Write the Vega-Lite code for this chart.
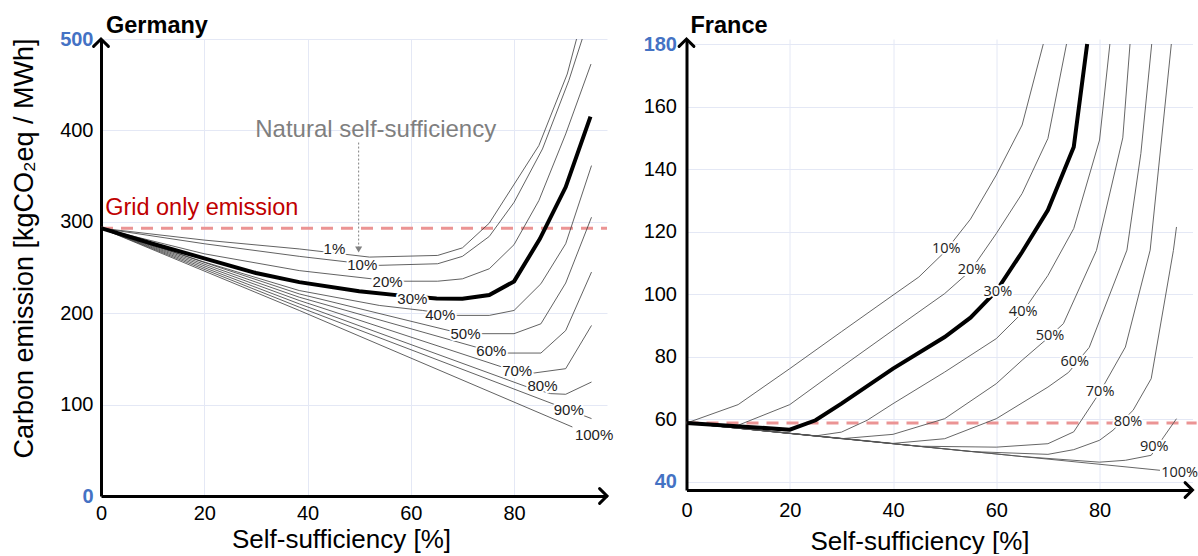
{
  "$schema": "https://vega.github.io/schema/vega-lite/v6.json",
  "padding": {"left": 9, "top": 13, "right": 0, "bottom": 0},
  "spacing": 79.5,
  "bounds": "flush",
  "config": {"view": {"stroke": null}, "font": "Liberation Sans"},
  "datasets": {
    "de": [
      {"g": "1%", "x": 0, "y": 293}, {"g": "1%", "x": 20, "y": 280}, {"g": "1%", "x": 38.4, "y": 270.3}, {"g": "1%", "x": 52, "y": 261.4}, {"g": "1%", "x": 65.2, "y": 263.2}, {"g": "1%", "x": 70, "y": 271.5}, {"g": "1%", "x": 75.2, "y": 298.5}, {"g": "1%", "x": 84.8, "y": 383.4}, {"g": "1%", "x": 90.3, "y": 461.7}, {"g": "1%", "x": 92.1, "y": 500},
      {"g": "10%", "x": 0, "y": 293}, {"g": "10%", "x": 20, "y": 276}, {"g": "10%", "x": 38.4, "y": 262.2}, {"g": "10%", "x": 53.5, "y": 252.3}, {"g": "10%", "x": 65.2, "y": 254.1}, {"g": "10%", "x": 70, "y": 262.2}, {"g": "10%", "x": 75.2, "y": 284}, {"g": "10%", "x": 80, "y": 321.3}, {"g": "10%", "x": 85.5, "y": 379.7}, {"g": "10%", "x": 90.6, "y": 454.4}, {"g": "10%", "x": 93.2, "y": 500},
      {"g": "20%", "x": 0, "y": 293}, {"g": "20%", "x": 20, "y": 265}, {"g": "20%", "x": 38.4, "y": 246.6}, {"g": "20%", "x": 52.3, "y": 237.7}, {"g": "20%", "x": 58.7, "y": 235}, {"g": "20%", "x": 65.2, "y": 235}, {"g": "20%", "x": 70, "y": 237.6}, {"g": "20%", "x": 75.2, "y": 248.6}, {"g": "20%", "x": 80, "y": 275}, {"g": "20%", "x": 84.8, "y": 323.2}, {"g": "20%", "x": 90, "y": 396.1}, {"g": "20%", "x": 94.9, "y": 472.6},
      {"g": "30%", "x": 0, "y": 293}, {"g": "30%", "x": 10, "y": 276}, {"g": "30%", "x": 20, "y": 260}, {"g": "30%", "x": 30, "y": 244}, {"g": "30%", "x": 38.4, "y": 234}, {"g": "30%", "x": 50, "y": 224}, {"g": "30%", "x": 57.7, "y": 219.5}, {"g": "30%", "x": 65, "y": 216}, {"g": "30%", "x": 70, "y": 215.8}, {"g": "30%", "x": 75.2, "y": 219.8}, {"g": "30%", "x": 80, "y": 234.8}, {"g": "30%", "x": 85, "y": 281.3}, {"g": "30%", "x": 90, "y": 338}, {"g": "30%", "x": 94.8, "y": 415.1},
      {"g": "40%", "x": 0, "y": 293}, {"g": "40%", "x": 20, "y": 256}, {"g": "40%", "x": 38.4, "y": 224.8}, {"g": "40%", "x": 53.9, "y": 208.5}, {"g": "40%", "x": 62.3, "y": 203}, {"g": "40%", "x": 68.7, "y": 197.6}, {"g": "40%", "x": 75.2, "y": 197.6}, {"g": "40%", "x": 80, "y": 203}, {"g": "40%", "x": 85.2, "y": 232.2}, {"g": "40%", "x": 90, "y": 276}, {"g": "40%", "x": 95, "y": 361.5},
      {"g": "50%", "x": 0, "y": 293}, {"g": "50%", "x": 38.4, "y": 221.1}, {"g": "50%", "x": 67.4, "y": 181}, {"g": "50%", "x": 72.3, "y": 177.6}, {"g": "50%", "x": 80, "y": 177.6}, {"g": "50%", "x": 85.2, "y": 188.4}, {"g": "50%", "x": 90, "y": 233}, {"g": "50%", "x": 95, "y": 305},
      {"g": "60%", "x": 0, "y": 293}, {"g": "60%", "x": 38.4, "y": 217.5}, {"g": "60%", "x": 72.6, "y": 162.9}, {"g": "60%", "x": 78.6, "y": 156.4}, {"g": "60%", "x": 85.2, "y": 156.4}, {"g": "60%", "x": 90, "y": 181}, {"g": "60%", "x": 95, "y": 245},
      {"g": "70%", "x": 0, "y": 293}, {"g": "70%", "x": 38.4, "y": 213.9}, {"g": "70%", "x": 77.7, "y": 141.1}, {"g": "70%", "x": 83.9, "y": 134.6}, {"g": "70%", "x": 90, "y": 139.3}, {"g": "70%", "x": 95, "y": 186.6},
      {"g": "80%", "x": 0, "y": 293}, {"g": "80%", "x": 38.4, "y": 210.2}, {"g": "80%", "x": 82.6, "y": 119.2}, {"g": "80%", "x": 87.1, "y": 112}, {"g": "80%", "x": 90, "y": 111.3}, {"g": "80%", "x": 95, "y": 124.7},
      {"g": "90%", "x": 0, "y": 293}, {"g": "90%", "x": 38.4, "y": 206.6}, {"g": "90%", "x": 95, "y": 84.7},
      {"g": "100%", "x": 0, "y": 293}, {"g": "100%", "x": 38.4, "y": 203}, {"g": "100%", "x": 91.3, "y": 75.5}
    ],
    "deLab": [
      {"t": "1%", "x": 45.2, "y": 269.7, "b": 0}, {"t": "10%", "x": 50.6, "y": 252.3, "b": 0}, {"t": "20%", "x": 55.5, "y": 234, "b": 0}, {"t": "30%", "x": 60.3, "y": 215.8, "b": 1}, {"t": "40%", "x": 65.7, "y": 197.6, "b": 0}, {"t": "50%", "x": 70.6, "y": 177.6, "b": 0}, {"t": "60%", "x": 75.6, "y": 158.6, "b": 0}, {"t": "70%", "x": 80.6, "y": 136.7, "b": 0}, {"t": "80%", "x": 85.5, "y": 120, "b": 0}, {"t": "90%", "x": 90.6, "y": 93.7, "b": 0}, {"t": "100%", "x": 95.5, "y": 66.4, "b": 0}
    ],
    "fr": [
      {"g": "10%", "x": 0, "y": 58.8}, {"g": "10%", "x": 10, "y": 64.7}, {"g": "10%", "x": 20, "y": 76.2}, {"g": "10%", "x": 30, "y": 88}, {"g": "10%", "x": 40, "y": 99.7}, {"g": "10%", "x": 45, "y": 105.5}, {"g": "10%", "x": 50, "y": 113.5}, {"g": "10%", "x": 55, "y": 124}, {"g": "10%", "x": 60, "y": 138.1}, {"g": "10%", "x": 65, "y": 154.1}, {"g": "10%", "x": 69.1, "y": 180},
      {"g": "20%", "x": 0, "y": 58.8}, {"g": "20%", "x": 10, "y": 58.1}, {"g": "20%", "x": 20, "y": 64.7}, {"g": "20%", "x": 30, "y": 76.7}, {"g": "20%", "x": 40, "y": 88.5}, {"g": "20%", "x": 50, "y": 100.2}, {"g": "20%", "x": 55, "y": 107.5}, {"g": "20%", "x": 60, "y": 119.4}, {"g": "20%", "x": 65, "y": 132.2}, {"g": "20%", "x": 70, "y": 149.8}, {"g": "20%", "x": 73.6, "y": 180},
      {"g": "30%", "x": 0, "y": 58.8}, {"g": "30%", "x": 20, "y": 56.7}, {"g": "30%", "x": 25, "y": 59.7}, {"g": "30%", "x": 30, "y": 65}, {"g": "30%", "x": 40, "y": 76.2}, {"g": "30%", "x": 50, "y": 86.3}, {"g": "30%", "x": 55, "y": 92.5}, {"g": "30%", "x": 60, "y": 101}, {"g": "30%", "x": 65, "y": 113.5}, {"g": "30%", "x": 70, "y": 126.9}, {"g": "30%", "x": 75, "y": 147.1}, {"g": "30%", "x": 77.6, "y": 180},
      {"g": "40%", "x": 0, "y": 58.8}, {"g": "40%", "x": 25, "y": 54.7}, {"g": "40%", "x": 30, "y": 55.9}, {"g": "40%", "x": 35, "y": 59.7}, {"g": "40%", "x": 40, "y": 65}, {"g": "40%", "x": 50, "y": 75.1}, {"g": "40%", "x": 60, "y": 85.8}, {"g": "40%", "x": 65, "y": 94}, {"g": "40%", "x": 70, "y": 106}, {"g": "40%", "x": 75, "y": 121}, {"g": "40%", "x": 80, "y": 149.3}, {"g": "40%", "x": 82, "y": 180},
      {"g": "50%", "x": 0, "y": 58.8}, {"g": "50%", "x": 30, "y": 53.8}, {"g": "50%", "x": 40, "y": 55.2}, {"g": "50%", "x": 50, "y": 60.2}, {"g": "50%", "x": 60, "y": 71.4}, {"g": "50%", "x": 65, "y": 78.9}, {"g": "50%", "x": 70, "y": 86}, {"g": "50%", "x": 73, "y": 90.6}, {"g": "50%", "x": 79.4, "y": 114}, {"g": "50%", "x": 84.5, "y": 150}, {"g": "50%", "x": 85.9, "y": 180},
      {"g": "60%", "x": 0, "y": 58.8}, {"g": "60%", "x": 40, "y": 52.3}, {"g": "60%", "x": 50, "y": 53.8}, {"g": "60%", "x": 60, "y": 60.2}, {"g": "60%", "x": 70, "y": 70.3}, {"g": "60%", "x": 74, "y": 75}, {"g": "60%", "x": 78, "y": 83}, {"g": "60%", "x": 85.3, "y": 114.1}, {"g": "60%", "x": 88, "y": 145}, {"g": "60%", "x": 90.1, "y": 180},
      {"g": "70%", "x": 0, "y": 58.8}, {"g": "70%", "x": 45, "y": 51.4}, {"g": "70%", "x": 60, "y": 51.1}, {"g": "70%", "x": 70, "y": 52.2}, {"g": "70%", "x": 75, "y": 56}, {"g": "70%", "x": 80, "y": 68.5}, {"g": "70%", "x": 85, "y": 83.1}, {"g": "70%", "x": 89.8, "y": 114.1}, {"g": "70%", "x": 93.9, "y": 180},
      {"g": "80%", "x": 0, "y": 58.8}, {"g": "80%", "x": 55, "y": 49.7}, {"g": "80%", "x": 70, "y": 48.8}, {"g": "80%", "x": 75, "y": 50.3}, {"g": "80%", "x": 80, "y": 53.3}, {"g": "80%", "x": 82.6, "y": 56.5}, {"g": "80%", "x": 86.5, "y": 62.9}, {"g": "80%", "x": 90, "y": 73}, {"g": "80%", "x": 94.3, "y": 114}, {"g": "80%", "x": 94.9, "y": 121.5},
      {"g": "90%", "x": 0, "y": 58.8}, {"g": "90%", "x": 65, "y": 48.1}, {"g": "90%", "x": 80, "y": 46.3}, {"g": "90%", "x": 85, "y": 46.9}, {"g": "90%", "x": 90, "y": 48.5}, {"g": "90%", "x": 92.4, "y": 54.3}, {"g": "90%", "x": 94.9, "y": 60.2},
      {"g": "100%", "x": 0, "y": 58.8}, {"g": "100%", "x": 91.7, "y": 43.7}
    ],
    "frLab": [
      {"t": "10%", "x": 50.3, "y": 114.3, "b": 0}, {"t": "20%", "x": 55.3, "y": 107.9, "b": 0}, {"t": "30%", "x": 60.3, "y": 100.7, "b": 1}, {"t": "40%", "x": 65.2, "y": 94.3, "b": 0}, {"t": "50%", "x": 70.4, "y": 86.6, "b": 0}, {"t": "60%", "x": 75.2, "y": 78.3, "b": 0}, {"t": "70%", "x": 80.1, "y": 68.7, "b": 0}, {"t": "80%", "x": 85.5, "y": 59.1, "b": 0}, {"t": "90%", "x": 90.6, "y": 51.1, "b": 0}, {"t": "100%", "x": 95.5, "y": 42.8, "b": 0}
    ]
  },
  "hconcat": [
    {
      "width": 506,
      "height": 457,
      "title": {"text": "Germany", "anchor": "start", "frame": "group", "fontSize": 23.5, "fontWeight": "bold", "color": "black", "font": "Liberation Sans", "offset": -8, "dx": 5},
      "encoding": {
        "x": {"field": "x", "type": "quantitative", "scale": {"domain": [0, 98], "nice": false, "zero": false},
          "axis": {"values": [0, 20, 40, 60, 80], "title": "Self-sufficiency [%]", "titleFontSize": 26, "titleFontWeight": "normal", "titleColor": "black", "titleX": 240, "titleY": 51, "titleBaseline": "alphabetic", "titleAlign": "center", "labelFontSize": 20, "labelColor": "black", "labelPadding": 7, "labelFlush": false, "labelOverlap": false, "ticks": false, "domainColor": "black", "domainWidth": 3, "grid": true, "gridColor": "#E4E8F5", "gridWidth": 1}},
        "y": {"field": "y", "type": "quantitative", "scale": {"domain": [0, 500], "nice": false, "zero": false},
          "axis": {"values": [0, 100, 200, 300, 400, 500], "title": "Carbon emission [kgCO₂eq / MWh]", "titleFontSize": 27, "titleFontWeight": "normal", "titleColor": "black", "titleX": -69, "titleY": 209, "titleBaseline": "alphabetic", "titleAlign": "center", "titleAngle": -90, "labelFontSize": 20, "labelPadding": 8, "labelFlush": false, "labelOverlap": false,
            "labelColor": {"condition": {"test": "datum.value == 0 || datum.value == 500", "value": "#4472C4"}, "value": "black"},
            "labelFontWeight": {"condition": {"test": "datum.value == 0 || datum.value == 500", "value": "bold"}, "value": "normal"},
            "ticks": false, "domainColor": "black", "domainWidth": 3, "grid": true, "gridColor": "#E4E8F5", "gridWidth": 1}}
      },
      "layer": [
        {"data": {"values": [{"x": 0, "x2": 98, "y": 293}]}, "mark": {"type": "rule", "color": "#EB9494", "strokeWidth": 3, "strokeDash": [12, 8]}, "encoding": {"x2": {"field": "x2"}}},
        {"data": {"name": "de"}, "transform": [{"filter": "datum.g != '30%'"}], "mark": {"type": "line", "color": "#3a3a3a", "strokeWidth": 0.8}, "encoding": {"detail": {"field": "g"}}},
        {"data": {"name": "de"}, "transform": [{"filter": "datum.g == '30%'"}], "mark": {"type": "line", "color": "black", "strokeWidth": 4}, "encoding": {}},
        {"data": {"name": "deLab"}, "mark": {"type": "text", "fontSize": 15, "font": "Liberation Sans", "stroke": "white", "strokeWidth": 4, "strokeJoin": "round", "baseline": "middle"}, "encoding": {"text": {"field": "t"}, "fontWeight": {"condition": {"test": "datum.b == 1", "value": "bold"}, "value": "normal"}}},
        {"data": {"name": "deLab"}, "mark": {"type": "text", "fontSize": 15, "font": "Liberation Sans", "color": "#222", "baseline": "middle"}, "encoding": {"text": {"field": "t"}, "fontWeight": {"condition": {"test": "datum.b == 1", "value": "bold"}, "value": "normal"}}},
        {"data": {"values": [{"x": 0.8, "y": 306.9, "t": "Grid only emission"}]}, "mark": {"type": "text", "fontSize": 23.5, "color": "#C00000", "align": "left", "baseline": "alphabetic"}, "encoding": {"text": {"field": "t"}}},
        {"data": {"values": [{"x": 53.2, "y": 392.5, "t": "Natural self-sufficiency"}]}, "mark": {"type": "text", "fontSize": 24, "color": "#7F7F7F", "align": "center", "baseline": "alphabetic"}, "encoding": {"text": {"field": "t"}}},
        {"data": {"values": [{"x": 49.9, "y": 386.7, "y2": 272}]}, "mark": {"type": "rule", "color": "#808080", "strokeWidth": 1, "strokeDash": [2, 2]}, "encoding": {"y2": {"field": "y2"}}},
        {"data": {"values": [{"x": 49.9, "y": 269.7}]}, "mark": {"type": "point", "shape": "triangle-down", "filled": true, "color": "#808080", "size": 50, "opacity": 1}, "encoding": {}},
        {"data": {"values": [{"x": 98, "y": 0}]}, "mark": {"type": "point", "shape": "M-1,-1L0,0L-1,1", "filled": false, "color": "black", "strokeWidth": 3, "size": 220, "opacity": 1, "strokeCap": "round", "strokeJoin": "miter"}, "encoding": {}},
        {"data": {"values": [{"x": 0, "y": 500}]}, "mark": {"type": "point", "shape": "M-1,1L0,0L1,1", "filled": false, "color": "black", "strokeWidth": 3, "size": 220, "opacity": 1, "strokeCap": "round", "strokeJoin": "miter"}, "encoding": {}}
      ]
    },
    {
      "width": 506,
      "height": 451,
      "title": {"text": "France", "anchor": "start", "frame": "group", "fontSize": 23.5, "fontWeight": "bold", "color": "black", "font": "Liberation Sans", "offset": -4, "dx": 4},
      "encoding": {
        "x": {"field": "x", "type": "quantitative", "scale": {"domain": [0, 98], "nice": false, "zero": false},
          "axis": {"values": [0, 20, 40, 60, 80], "title": "Self-sufficiency [%]", "titleFontSize": 26, "titleFontWeight": "normal", "titleColor": "black", "titleX": 233, "titleY": 59, "titleBaseline": "alphabetic", "titleAlign": "center", "labelFontSize": 20, "labelColor": "black", "labelPadding": 10, "labelFlush": false, "labelOverlap": false, "ticks": false, "domainColor": "black", "domainWidth": 3, "grid": true, "gridColor": "#E4E8F5", "gridWidth": 1}},
        "y": {"field": "y", "type": "quantitative", "scale": {"domain": [37.4, 181.6], "nice": false, "zero": false},
          "axis": {"values": [40, 60, 80, 100, 120, 140, 160, 180], "title": null, "labelFontSize": 20, "labelPadding": 10, "labelFlush": false, "labelOverlap": false,
            "labelColor": {"condition": {"test": "datum.value == 40 || datum.value == 180", "value": "#4472C4"}, "value": "black"},
            "labelFontWeight": {"condition": {"test": "datum.value == 40 || datum.value == 180", "value": "bold"}, "value": "normal"},
            "ticks": false, "domainColor": "black", "domainWidth": 3, "grid": true, "gridColor": "#E4E8F5", "gridWidth": 1}}
      },
      "layer": [
        {"data": {"values": [{"x": 0, "x2": 98.8, "y": 58.8}]}, "mark": {"type": "rule", "color": "#EB9494", "strokeWidth": 3, "strokeDash": [12, 8]}, "encoding": {"x2": {"field": "x2"}}},
        {"data": {"name": "fr"}, "transform": [{"filter": "datum.g != '30%'"}], "mark": {"type": "line", "color": "#555555", "strokeWidth": 0.9}, "encoding": {"detail": {"field": "g"}}},
        {"data": {"name": "fr"}, "transform": [{"filter": "datum.g == '30%'"}], "mark": {"type": "line", "color": "black", "strokeWidth": 4}, "encoding": {}},
        {"data": {"name": "frLab"}, "mark": {"type": "text", "fontSize": 14.5, "font": "Open Sans", "stroke": "white", "strokeWidth": 4, "strokeJoin": "round", "baseline": "middle"}, "encoding": {"text": {"field": "t"}, "fontWeight": {"condition": {"test": "datum.b == 1", "value": "bold"}, "value": "normal"}}},
        {"data": {"name": "frLab"}, "mark": {"type": "text", "fontSize": 14.5, "font": "Open Sans", "color": "#222", "baseline": "middle"}, "encoding": {"text": {"field": "t"}, "fontWeight": {"condition": {"test": "datum.b == 1", "value": "bold"}, "value": "normal"}}},
        {"data": {"values": [{"x": 98, "y": 37.4}]}, "mark": {"type": "point", "shape": "M-1,-1L0,0L-1,1", "filled": false, "color": "black", "strokeWidth": 3, "size": 220, "opacity": 1, "strokeCap": "round", "strokeJoin": "miter"}, "encoding": {}},
        {"data": {"values": [{"x": 0, "y": 181.6}]}, "mark": {"type": "point", "shape": "M-1,1L0,0L1,1", "filled": false, "color": "black", "strokeWidth": 3, "size": 220, "opacity": 1, "strokeCap": "round", "strokeJoin": "miter"}, "encoding": {}}
      ]
    }
  ]
}
